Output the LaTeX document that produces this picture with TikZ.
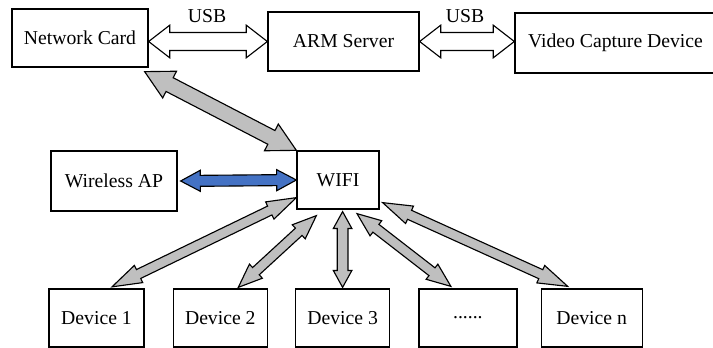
\documentclass[tikz,border=0pt]{standalone}
\usepackage{fontspec}
\setmainfont{Liberation Serif}
\usetikzlibrary{positioning}
\usetikzlibrary{calc}
\definecolor{apblue}{RGB}{68,114,196}
% block arrow between two named points: style, shaft half width, head half width, head length, from, to
\newcommand{\fatarrow}[6]{%
	\draw[#1] (#5)
	-- ($(#5)!#4!(#6)!#3!90:(#6)$)
	-- ($(#5)!#4!(#6)!#2!90:(#6)$)
	-- ($(#6)!#4!(#5)!#2!-90:(#5)$)
	-- ($(#6)!#4!(#5)!#3!-90:(#5)$)
	-- (#6)
	-- ($(#6)!#4!(#5)!#3!90:(#5)$)
	-- ($(#6)!#4!(#5)!#2!90:(#5)$)
	-- ($(#5)!#4!(#6)!#2!-90:(#6)$)
	-- ($(#5)!#4!(#6)!#3!-90:(#6)$)
	-- cycle;}
\begin{document}
\begin{tikzpicture}[x=0.025cm,y=0.025cm,font=\fontsize{14}{16}\selectfont,
	box/.style={draw,line width=0.9pt,inner sep=0pt},
	usbarrow/.style={draw,fill=white,line width=0.8pt},
	grayarrow/.style={draw,fill=gray!50,line width=0.8pt},
	bluearrow/.style={draw,fill=apblue,line width=0.8pt}]
	\useasboundingbox (0,0) rectangle (713,348);
	%% top row
	\node[box,minimum width=3.4cm,minimum height=1.45cm] (card) at (80,310) {Network Card};
	\node[box,minimum width=3.775cm,minimum height=1.475cm] (arm) at (343.5,306.5) {ARM Server};
	\node[box,minimum width=5.025cm,minimum height=1.5cm] (cam) at (615.5,305) {Video Capture Device};
	\node (usb1) at (207,332) {USB};
	\node (usb2) at (465,332) {USB};
	%% middle row
	\node[box,minimum width=3.15cm,minimum height=1.5cm] (ap) at (114,167) {Wireless AP};
	\node[box,minimum width=2.05cm,minimum height=1.45cm] (wifi) at (338,168) {WIFI};
	%% devices
	\node[box,minimum width=2.375cm,minimum height=1.45cm] (d1) at (96.5,30) {Device 1};
	\node[box,minimum width=2.35cm,minimum height=1.45cm,right=0.7cm of d1] (d2) {Device 2};
	\node[box,minimum width=2.35cm,minimum height=1.45cm,right=0.675cm of d2] (d3) {Device 3};
	\node[box,minimum width=2.45cm,minimum height=1.45cm,right=0.7cm of d3] (dots) {......};
	\node[box,minimum width=2.525cm,minimum height=1.45cm,right=0.575cm of dots] (dn) {Device n};
	% end points of the arrows
	\coordinate (u1) at (card.east |- arm.west);
	\coordinate (u2) at (cam.west |- arm.east);
	\coordinate (c1) at ($(card.south east)+(-4,-4)$);
	\coordinate (a1) at ($(ap.east)+(3,0)$);
	\coordinate (w1) at ($(wifi.south west)+(0,12)$);
	\coordinate (w2) at ($(wifi.south west)+(20,-6)$);
	\coordinate (w3) at ($(d3.north |- wifi.south)+(0,-2)$);
	\coordinate (w4) at ($(wifi.south)+(19,-4)$);
	\coordinate (w5) at ($(wifi.south east)+(3,7)$);
	\coordinate (e1) at ($(d1.north)+(15.5,1.5)$);
	\coordinate (e2) at ($(d2.north)+(18,1)$);
	\coordinate (e3) at ($(d3.north)+(0,1)$);
	\coordinate (e4) at ($(dots.north)+(-17,2)$);
	\coordinate (e5) at ($(dn.north)+(-24,2)$);
	% arrows
	\fatarrow{usbarrow}{6.4pt}{11.6pt}{15pt}{u1}{arm.west}
	\fatarrow{usbarrow}{6.4pt}{11.6pt}{15pt}{arm.east}{u2}
	\fatarrow{grayarrow}{5.5pt}{10.7pt}{20pt}{c1}{wifi.north west}
	\fatarrow{bluearrow}{3.9pt}{7.5pt}{14pt}{a1}{wifi.west}
	\fatarrow{grayarrow}{3.5pt}{6.8pt}{21pt}{e1}{w1}
	\fatarrow{grayarrow}{3.5pt}{6.8pt}{17pt}{e2}{w2}
	\fatarrow{grayarrow}{3.8pt}{6.6pt}{12pt}{e3}{w3}
	\fatarrow{grayarrow}{3.5pt}{6.8pt}{17pt}{e4}{w4}
	\fatarrow{grayarrow}{3.5pt}{6.8pt}{21pt}{e5}{w5}
\end{tikzpicture}
\end{document}
